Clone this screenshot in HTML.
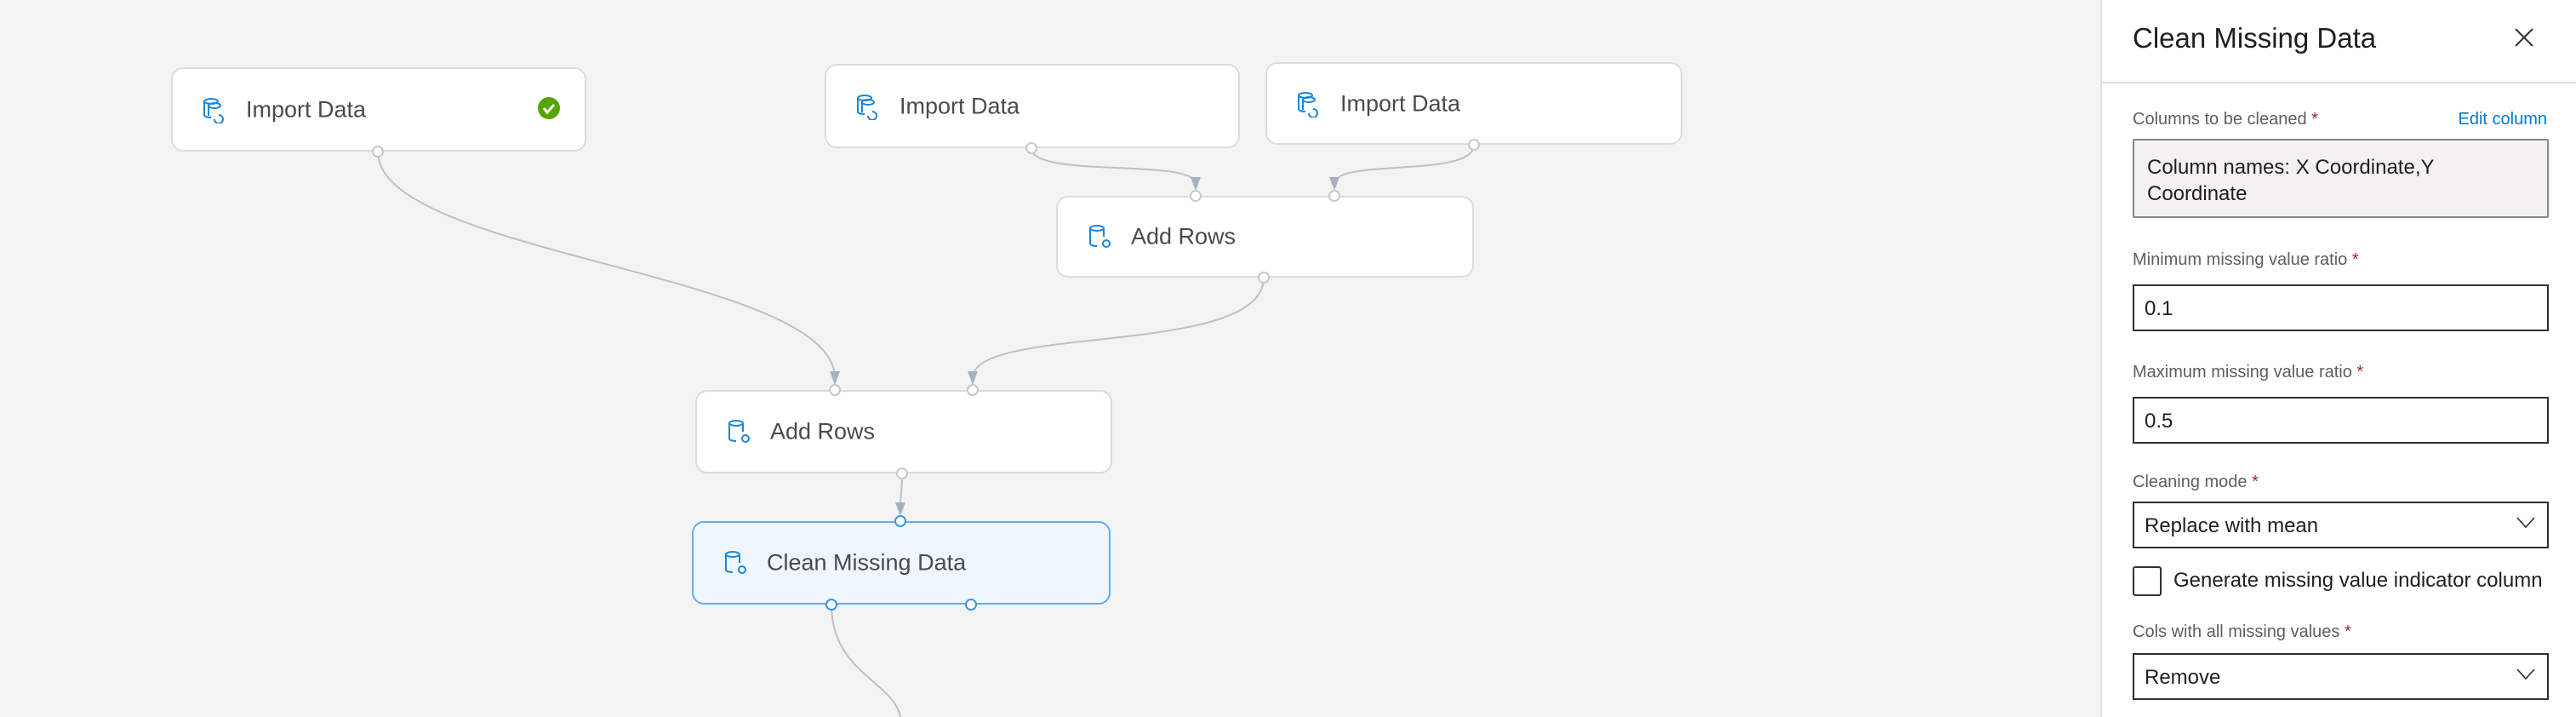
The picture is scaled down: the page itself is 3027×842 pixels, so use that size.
<!DOCTYPE html>
<html><head><meta charset="utf-8">
<style>
*{margin:0;padding:0;box-sizing:border-box}
body{width:3027px;height:842px;overflow:hidden;background:#f3f3f3;font-family:"Liberation Sans",sans-serif;position:relative}
.node{position:absolute;background:#fff;border:2px solid #dcdcdc;border-radius:14px}
.node .t{position:absolute;left:86px;top:50%;transform:translateY(-50%);font-size:27px;color:#4a4a4a;white-space:nowrap}
.node svg.ic{position:absolute;left:34px;top:50%;margin-top:-16px}
.sel{background:#eff6fd;border:2px solid #64aef0}
#panel{position:absolute;left:2468px;top:0;width:559px;height:842px;background:#fff;border-left:2px solid #e1e1e1}
.p{position:absolute;left:36px}
.lbl{font-size:20px;color:#605e5c}
.lbl b{color:#a4262c;font-weight:normal}
.inp{position:absolute;left:36px;width:489px;height:55px;border:2px solid #323130;font-size:24px;color:#201f1e;padding:13px 0 0 12px}
.chev{position:absolute;right:14px;top:16px}
</style></head><body>
<svg width="2468" height="842" style="position:absolute;left:0;top:0">
<g fill="none" stroke="#bcc1c8" stroke-width="2">
<path d="M444,178 C444,300 981,320 981,444"/>
<path d="M1212,174 C1212,210 1405,185 1405,216"/>
<path d="M1732,170 C1732,210 1568,185 1568,216"/>
<path d="M1485,326 C1485,420 1143,380 1143,444"/>
<path d="M1060,556 C1060,580 1058,575 1058,598"/>
<path d="M977,710 C977,790 1050,800 1058,842"/>
</g>
<g fill="#a6b1c0">
<path d="M975,436 L987,436 L981,452 Z"/>
<path d="M1399,208 L1411,208 L1405,224 Z"/>
<path d="M1562,208 L1574,208 L1568,224 Z"/>
<path d="M1137,436 L1149,436 L1143,452 Z"/>
<path d="M1052,590 L1064,590 L1058,606 Z"/>
</g>
</svg>

<div class="node" style="left:201px;top:79px;width:488px;height:99px">
<svg class="ic" width="32" height="32" viewBox="0 0 32 32" fill="none" stroke="#1a86d9" stroke-width="2"><ellipse cx="11" cy="6" rx="8" ry="3"/><path d="M3,6v16c0,2 4,3 8,3"/><ellipse cx="15" cy="11" rx="7" ry="3"/><path d="M8,11v12"/><path d="M20,22a5,5 0 1 1 -5,5" /></svg>
<div class="t">Import Data</div>
<svg style="position:absolute;left:428px;top:32px" width="28" height="28"><circle cx="14" cy="14" r="13" fill="#57a300"/><path d="M8,14 l4,5 l8,-9" stroke="#fff" stroke-width="3" fill="none"/></svg>
</div>
<div class="node" style="left:969px;top:75px;width:488px;height:99px">
<svg class="ic" width="32" height="32" viewBox="0 0 32 32" fill="none" stroke="#1a86d9" stroke-width="2"><ellipse cx="11" cy="6" rx="8" ry="3"/><path d="M3,6v16c0,2 4,3 8,3"/><ellipse cx="15" cy="11" rx="7" ry="3"/><path d="M8,11v12"/><path d="M20,22a5,5 0 1 1 -5,5" /></svg>
<div class="t">Import Data</div></div>
<div class="node" style="left:1487px;top:73px;width:490px;height:97px">
<svg class="ic" width="32" height="32" viewBox="0 0 32 32" fill="none" stroke="#1a86d9" stroke-width="2"><ellipse cx="11" cy="6" rx="8" ry="3"/><path d="M3,6v16c0,2 4,3 8,3"/><ellipse cx="15" cy="11" rx="7" ry="3"/><path d="M8,11v12"/><path d="M20,22a5,5 0 1 1 -5,5" /></svg>
<div class="t">Import Data</div></div>
<div class="node" style="left:1241px;top:230px;width:491px;height:96px">
<svg class="ic" width="32" height="32" viewBox="0 0 32 32" fill="none" stroke="#1a86d9" stroke-width="2"><ellipse cx="12" cy="6" rx="8" ry="3"/><path d="M4,6v18c0,2 4,3 8,3"/><path d="M20,6v10"/><circle cx="23" cy="24" r="4"/></svg>
<div class="t">Add Rows</div></div>
<div class="node" style="left:817px;top:458px;width:490px;height:98px">
<svg class="ic" width="32" height="32" viewBox="0 0 32 32" fill="none" stroke="#1a86d9" stroke-width="2"><ellipse cx="12" cy="6" rx="8" ry="3"/><path d="M4,6v18c0,2 4,3 8,3"/><path d="M20,6v10"/><circle cx="23" cy="24" r="4"/></svg>
<div class="t">Add Rows</div></div>
<div class="node sel" style="left:813px;top:612px;width:492px;height:98px">
<svg class="ic" width="32" height="32" viewBox="0 0 32 32" fill="none" stroke="#1a86d9" stroke-width="2"><ellipse cx="12" cy="6" rx="8" ry="3"/><path d="M4,6v18c0,2 4,3 8,3"/><path d="M20,6v10"/><circle cx="23" cy="24" r="4"/></svg>
<div class="t">Clean Missing Data</div></div>

<svg width="2468" height="842" style="position:absolute;left:0;top:0">
<g fill="#fff" stroke="#c8c8c8" stroke-width="2">
<circle cx="444" cy="178" r="6"/><circle cx="1212" cy="174" r="6"/><circle cx="1732" cy="170" r="6"/>
<circle cx="1405" cy="230" r="6"/><circle cx="1568" cy="230" r="6"/><circle cx="1485" cy="326" r="6"/>
<circle cx="981" cy="458" r="6"/><circle cx="1143" cy="458" r="6"/><circle cx="1060" cy="556" r="6"/>
</g>
<g fill="#fff" stroke="#3b95e6" stroke-width="2">
<circle cx="1058" cy="612" r="6"/><circle cx="977" cy="710" r="6"/><circle cx="1141" cy="710" r="6"/>
</g>
</svg>

<div id="panel">
<div class="p" style="top:26px;font-size:33px;color:#201f1e">Clean Missing Data</div>
<svg style="position:absolute;left:484px;top:32px" width="24" height="24"><path d="M2,2 L22,22 M22,2 L2,22" stroke="#323130" stroke-width="2"/></svg>
<div style="position:absolute;left:0;top:96px;width:559px;height:2px;background:#e1e1e1"></div>
<div class="p lbl" style="top:129px">Columns to be cleaned <b>*</b></div>
<div style="position:absolute;right:34px;top:129px;font-size:20px;color:#0078d4">Edit column</div>
<div style="position:absolute;left:36px;top:163px;width:489px;height:93px;background:#f3f2f1;border:2px solid #8a8886;border-radius:2px;font-size:24px;line-height:31px;color:#201f1e;padding:16px 0 0 15px">Column names: X Coordinate,Y<br>Coordinate</div>
<div class="p lbl" style="top:294px">Minimum missing value ratio <b>*</b></div>
<div class="inp" style="top:334px">0.1</div>
<div class="p lbl" style="top:426px">Maximum missing value ratio <b>*</b></div>
<div class="inp" style="top:466px">0.5</div>
<div class="p lbl" style="top:555px">Cleaning mode <b>*</b></div>
<div class="inp" style="top:589px">Replace with mean<svg class="chev" width="22" height="14"><path d="M1,1 L11,12 L21,1" stroke="#323130" stroke-width="1.6" fill="none"/></svg></div>
<div style="position:absolute;left:36px;top:665px;width:34px;height:35px;border:2px solid #323130;border-radius:3px"></div>
<div style="position:absolute;left:84px;top:668px;font-size:24px;color:#201f1e;white-space:nowrap">Generate missing value indicator column</div>
<div class="p lbl" style="top:731px">Cols with all missing values <b>*</b></div>
<div class="inp" style="top:767px">Remove<svg class="chev" width="22" height="14"><path d="M1,1 L11,12 L21,1" stroke="#323130" stroke-width="1.6" fill="none"/></svg></div>
</div>
</body></html>
